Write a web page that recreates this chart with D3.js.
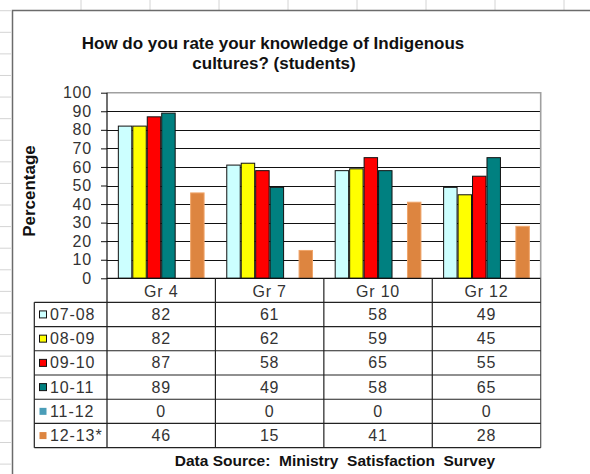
<!DOCTYPE html>
<html>
<head>
<meta charset="utf-8">
<script src="https://cdn.jsdelivr.net/npm/d3@7"></script>
<style>
  html, body { margin: 0; padding: 0; background: #fff; }
  svg { display: block; font-family: "Liberation Sans", Arial, sans-serif; }
  text { white-space: pre; }
</style>
</head>
<body>
<svg id="chart" width="590" height="474"></svg>
<script>
// Grade levels along the category axis
const grades = ["Gr 4", "Gr 7", "Gr 10", "Gr 12"];
// School-year series
const years = ["07-08", "08-09", "09-10", "10-11", "11-12", "12-13*"];
// Percentage values per series, one entry per grade
const v0708 = [82, 61, 58, 49];
const v0809 = [82, 62, 59, 45];
const v0910 = [87, 58, 65, 55];
const v1011 = [89, 49, 58, 65];
const v1112 = [0, 0, 0, 0];
const v1213 = [46, 15, 41, 28];
const yTicks = [0, 10, 20, 30, 40, 50, 60, 70, 80, 90, 100];

const seriesValues = [v0708, v0809, v0910, v1011, v1112, v1213];
const fills = ["#CCFFFF", "#FFFF00", "#FF0000", "#008080", "#4A9DB8", "#DD8540"];
const strokes = ["#111", "#111", "#111", "#111", "none", "#F0A56A"];

const svg = d3.select("#chart");

// Worksheet grid marks behind the chart frame
const gridG = svg.append("g");
d3.range(-1, 21).forEach(k => {
  const y = 32.3 + 21.59 * k;
  gridG.append("line").attr("x1", 0).attr("x2", 11).attr("y1", y).attr("y2", y)
    .attr("stroke", "#d4d4d4").attr("stroke-width", 1);
});
d3.range(0, 8).forEach(k => {
  const x = 81 + 69 * k;
  gridG.append("line").attr("x1", x).attr("x2", x).attr("y1", 0).attr("y2", 10)
    .attr("stroke", "#d4d4d4").attr("stroke-width", 1);
});

// Chart frame (left and top edges visible)
svg.append("path").attr("d", "M12.5,474 V10.5 H590")
  .attr("fill", "none").attr("stroke", "#6b6b6b").attr("stroke-width", 1.5);

// Scales
const plotL = 107, plotR = 540.7, plotT = 92.7, plotB = 278.3;
const x0 = d3.scaleBand().domain(grades).range([plotL, plotR]).padding(0);
const cw = x0.bandwidth();
const x1 = d3.scaleBand().domain(years).range([cw * 0.1, cw * 0.9]).padding(0);
const y = d3.scaleLinear().domain([0, 100]).range([plotB, plotT]);

// Horizontal gridlines
svg.append("g").selectAll("line").data(yTicks.filter(t => t > 0 && t < 100)).join("line")
  .attr("x1", plotL).attr("x2", plotR)
  .attr("y1", d => Math.round(y(d)) + 0.5).attr("y2", d => Math.round(y(d)) + 0.5)
  .attr("stroke", "#111").attr("stroke-width", 1);

// Plot area border (top and right)
svg.append("path")
  .attr("d", `M${plotL},${y(100)} H${plotR} V${plotB}`)
  .attr("fill", "none").attr("stroke", "#a0a0a0").attr("stroke-width", 1.6);

// Bars
const barG = svg.append("g");
grades.forEach((g, gi) => {
  years.forEach((s, si) => {
    const val = seriesValues[si][gi];
    barG.append("rect")
      .attr("x", x0(g) + x1(s) + 0.5)
      .attr("y", y(val))
      .attr("width", x1.bandwidth() - 1)
      .attr("height", y(0) - y(val))
      .attr("fill", fills[si])
      .attr("stroke", val > 0 ? strokes[si] : "none")
      .attr("stroke-width", 1);
  });
});

// Y axis with tick labels
const yAxis = d3.axisLeft(y).tickValues(yTicks).tickSize(6).tickPadding(9).tickFormat(d3.format("d"));
const yG = svg.append("g").attr("transform", `translate(${plotL},0)`).call(yAxis);
yG.select(".domain").remove();
yG.selectAll(".tick line").attr("stroke", "#111");
yG.selectAll(".tick text").attr("font-size", 16).attr("fill", "#333")
  .attr("font-family", "Liberation Sans, Arial, sans-serif").style("letter-spacing", "0.8px");

// Table geometry
const headB = 302.3;
const rowH = (447.7 - headB) / years.length;
const legL = 34.3;
const tableB = headB + rowH * years.length;

// Zero line and vertical axis running through the table
svg.append("line").attr("x1", plotL).attr("x2", plotR).attr("y1", plotB).attr("y2", plotB)
  .attr("stroke", "#111").attr("stroke-width", 1.2);
svg.append("line").attr("x1", plotL).attr("x2", plotL).attr("y1", plotT).attr("y2", tableB)
  .attr("stroke", "#111").attr("stroke-width", 1.2);

// Category dividers through header and table
grades.forEach(g => {
  const xr = x0(g) + cw;
  svg.append("line").attr("x1", xr).attr("x2", xr).attr("y1", plotB).attr("y2", tableB)
    .attr("stroke", xr > 540 ? "#555" : "#222").attr("stroke-width", 1.2);
});

// Header row labels
svg.append("g").selectAll("text").data(grades).join("text")
  .attr("x", d => x0(d) + cw / 2).attr("y", (plotB + headB) / 2 + 1)
  .attr("text-anchor", "middle").attr("dominant-baseline", "central")
  .attr("font-size", 16).attr("fill", "#333").style("letter-spacing", "0.8px")
  .text(d => d);

// Row lines
d3.range(0, years.length + 1).forEach(i => {
  const yy = headB + rowH * i;
  svg.append("line").attr("x1", legL).attr("x2", plotR).attr("y1", yy).attr("y2", yy)
    .attr("stroke", "#222").attr("stroke-width", 1.2);
});
svg.append("line").attr("x1", legL).attr("x2", legL).attr("y1", headB).attr("y2", tableB)
  .attr("stroke", "#222").attr("stroke-width", 1.2);

// Legend keys and value cells
years.forEach((s, si) => {
  const cy = headB + rowH * si + rowH / 2;
  svg.append("rect").attr("x", 39.5).attr("y", cy - 3.5).attr("width", 7).attr("height", 7)
    .attr("fill", fills[si]).attr("stroke", si < 4 ? "#111" : "none").attr("stroke-width", 1);
  svg.append("text").attr("x", 50).attr("y", cy)
    .attr("dominant-baseline", "central").attr("font-size", 16).attr("fill", "#333")
    .style("letter-spacing", "0.9px").text(s);
  grades.forEach((g, gi) => {
    svg.append("text").attr("x", x0(g) + cw / 2).attr("y", cy)
      .attr("text-anchor", "middle").attr("dominant-baseline", "central")
      .attr("font-size", 16).attr("fill", "#333").style("letter-spacing", "0.8px")
      .text(seriesValues[si][gi]);
  });
});

// Title
const title = svg.append("text").attr("text-anchor", "middle")
  .attr("font-size", 17).attr("font-weight", "bold").attr("fill", "#111");
title.append("tspan").attr("x", 273).attr("y", 49).text("How do you rate your knowledge of Indigenous");
title.append("tspan").attr("x", 274).attr("y", 69).text("cultures? (students)");

// Y axis title
svg.append("text").attr("transform", "translate(35,191) rotate(-90)")
  .attr("text-anchor", "middle").attr("font-size", 17).attr("font-weight", "bold").attr("fill", "#111")
  .text("Percentage");

// Source note
svg.append("text").attr("x", 335).attr("y", 466).attr("text-anchor", "middle")
  .attr("font-size", 15.5).attr("font-weight", "bold").attr("fill", "#111")
  .text("Data Source:  Ministry  Satisfaction  Survey");
</script>
</body>
</html>
